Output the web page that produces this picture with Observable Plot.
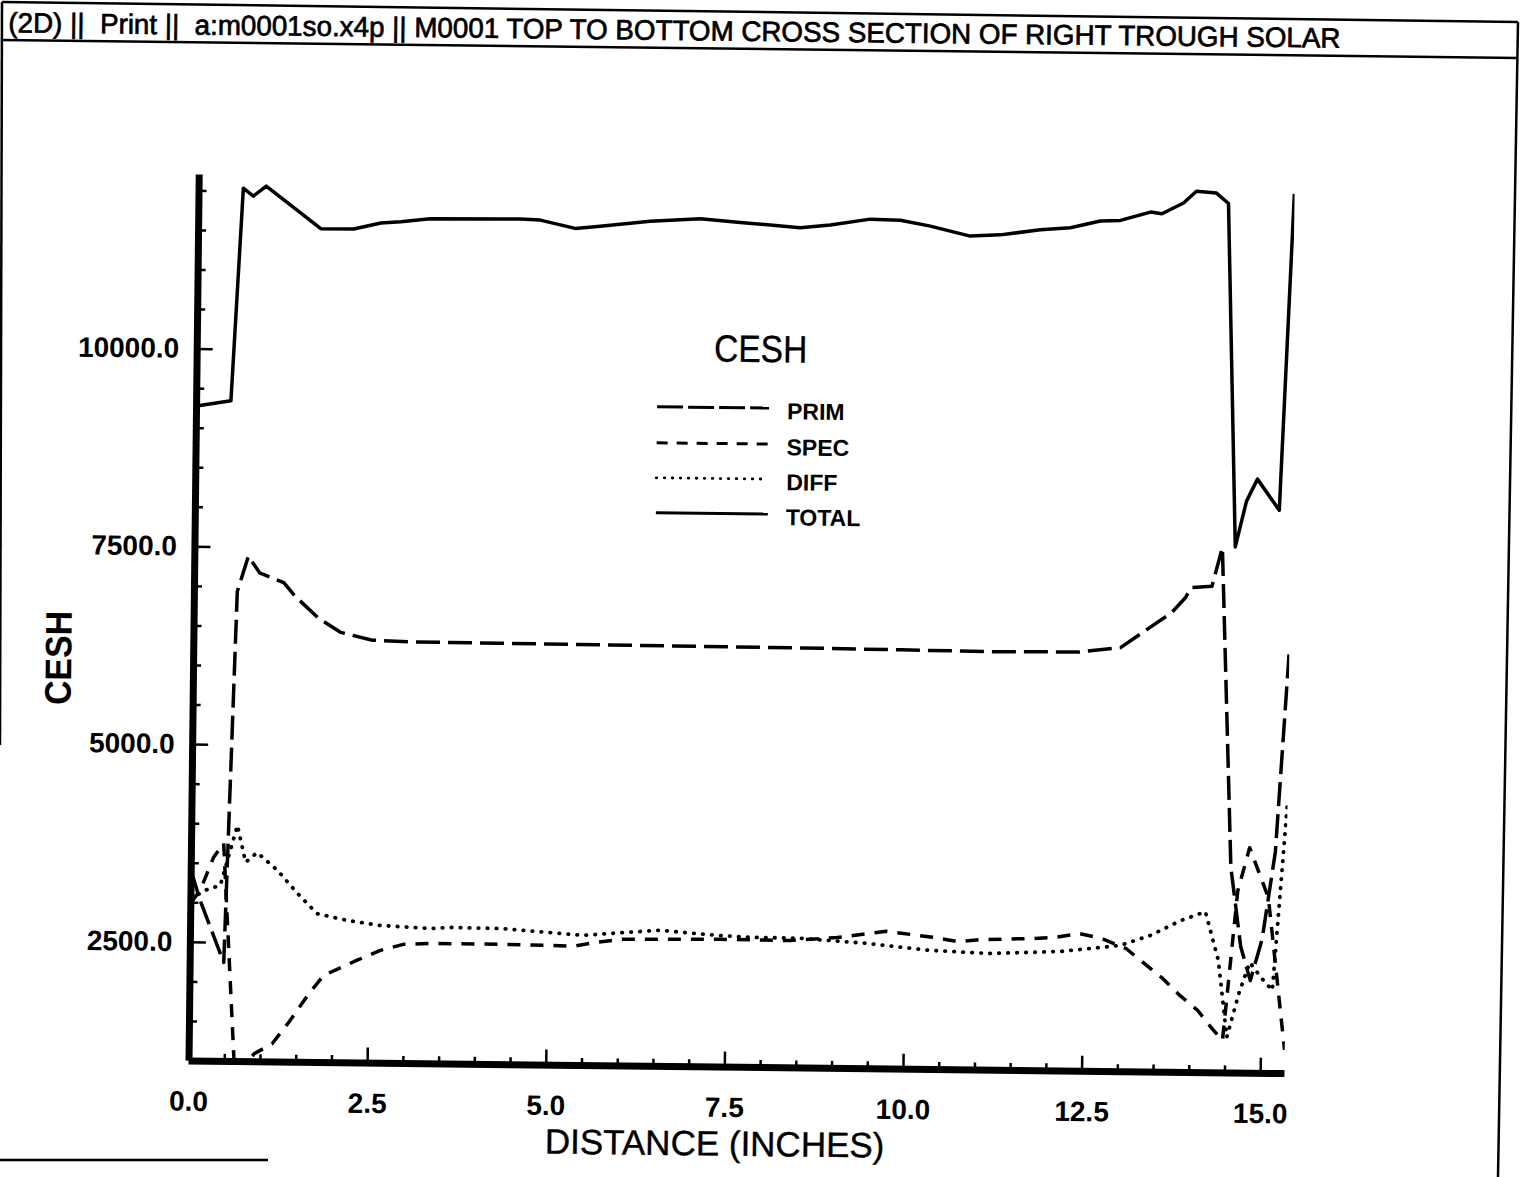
<!DOCTYPE html>
<html>
<head>
<meta charset="utf-8">
<script src="https://cdn.jsdelivr.net/npm/d3@7"></script>
<script src="https://cdn.jsdelivr.net/npm/@observablehq/plot@0.6"></script>
<style>
  body { margin: 0; background: #fff; }
  #wrap { position: relative; width: 1520px; height: 1177px; overflow: hidden; background: #fff; }
  #rot { position: absolute; left: 0; top: 0; width: 1520px; height: 1177px;
         transform: rotate(0.66deg); transform-origin: 760px 588px; }
  #chart { position: absolute; left: 0; top: 0; width: 1520px; height: 1177px; }
  #deco, #frame { position: absolute; left: 0; top: 0; overflow: visible; }
  text { font-family: "Liberation Sans", Arial, Helvetica, sans-serif; }
</style>
</head>
<body>
<div id="wrap">
  <div id="rot">
    <div id="chart"></div>
    <svg id="deco" width="1520" height="1177" xmlns="http://www.w3.org/2000/svg">
      <text x="2" y="41" font-size="28" stroke="#000" stroke-width="0.7" textLength="1332" lengthAdjust="spacingAndGlyphs" xml:space="preserve">(2D) ||  Print ||  a:m0001so.x4p || M0001 TOP TO BOTTOM CROSS SECTION OF RIGHT TROUGH SOLAR</text>
      <!-- axis titles -->
      <text x="721" y="1156" font-size="35" stroke="#000" stroke-width="0.4" text-anchor="middle">DISTANCE (INCHES)</text>
      <text transform="translate(72,666) rotate(-90)" font-size="37" font-weight="bold" text-anchor="middle" textLength="94" lengthAdjust="spacingAndGlyphs">CESH</text>
      <!-- legend -->
      <text x="758" y="362" font-size="38" stroke="#000" stroke-width="0.4" text-anchor="middle" textLength="93" lengthAdjust="spacingAndGlyphs">CESH</text>
      <g id="legend"></g>
    </svg>
  </div>
  <svg id="frame" width="1520" height="1177" xmlns="http://www.w3.org/2000/svg">
    <g fill="none" stroke="#000" stroke-width="2.5">
      <line x1="2" y1="2" x2="1518" y2="22"/>
      <line x1="2" y1="40" x2="1518" y2="58"/>
      <line x1="2" y1="2" x2="0" y2="745"/>
      <line x1="1518" y1="22" x2="1498" y2="1177"/>
      <line x1="0" y1="1160" x2="268" y2="1160"/>
    </g>
  </svg>
</div>
<script>
// ---------- data ----------
const seriesNames = ["PRIM", "SPEC", "DIFF", "TOTAL"];

const primX = [0.0, 0.13, 0.47, 0.6, 0.75, 0.91, 1.25, 1.41, 1.74, 2.05, 2.5, 3.0, 4.3, 5.7, 7.1, 8.5, 9.9, 11.3, 12.4, 12.97, 13.38, 13.68, 13.87, 13.95, 14.24, 14.38, 14.55, 14.7, 14.84, 15.0, 15.17, 15.33];
const primY = [3400, 3030, 2250, 6940, 7390, 7180, 7060, 6890, 6615, 6440, 6345, 6330, 6325, 6320, 6315, 6310, 6300, 6290, 6300, 6360, 6620, 6810, 7000, 7130, 7150, 7640, 3600, 2600, 2170, 2700, 3800, 6300];

const specX = [0.0, 0.13, 0.31, 0.45, 0.65, 0.83, 0.91, 1.16, 1.4, 1.66, 1.87, 2.33, 2.66, 2.98, 3.33, 4.34, 5.01, 5.36, 5.69, 6.04, 7.41, 8.39, 9.05, 9.74, 10.07, 10.4, 10.74, 11.07, 11.77, 12.12, 12.44, 12.76, 13.1, 13.37, 13.6, 13.86, 14.11, 14.31, 14.46, 14.65, 14.81, 15.08, 15.33];
const specY = [3000, 3160, 3575, 3760, 700, 1000, 1100, 1230, 1515, 1860, 2100, 2295, 2425, 2505, 2520, 2520, 2515, 2505, 2560, 2600, 2615, 2610, 2655, 2740, 2705, 2670, 2620, 2650, 2670, 2690, 2740, 2680, 2555, 2360, 2195, 1970, 1785, 1560, 1410, 3300, 3850, 3220, 1300];

const diffX = [0.0, 0.2, 0.41, 0.64, 0.76, 0.92, 1.21, 1.49, 1.77, 2.19, 2.66, 3.36, 3.64, 4.34, 5.04, 5.5, 6.11, 6.57, 7.36, 7.82, 8.53, 9.47, 10.36, 11.19, 12.17, 13.01, 13.43, 13.86, 14.2, 14.39, 14.52, 14.68, 14.83, 15.0, 15.15, 15.33];
const diffY = [3050, 3160, 3225, 3985, 3520, 3645, 3420, 3135, 2880, 2800, 2740, 2710, 2725, 2720, 2675, 2645, 2690, 2720, 2665, 2645, 2640, 2585, 2505, 2475, 2510, 2595, 2725, 2920, 3035, 2420, 1450, 2000, 2400, 2200, 2050, 4400];

const totalX = [0.0, 0.48, 0.62, 0.76, 0.94, 1.71, 2.17, 2.55, 2.83, 3.24, 4.5, 4.78, 5.27, 5.62, 6.32, 7.02, 7.58, 8.42, 8.84, 9.4, 9.82, 10.24, 10.8, 11.22, 11.78, 12.2, 12.62, 12.9, 13.32, 13.48, 13.78, 13.96, 14.24, 14.41, 14.56, 14.71, 14.86, 15.17, 15.33];
const totalY = [9280, 9350, 12040, 11940, 12070, 11540, 11540, 11620, 11640, 11680, 11690, 11680, 11580, 11610, 11680, 11720, 11680, 11620, 11660, 11740, 11730, 11660, 11540, 11560, 11630, 11660, 11750, 11760, 11870, 11850, 11990, 12140, 12120, 11990, 7650, 8230, 8510, 8120, 12120];

const xMajorTicks = [0, 2.5, 5, 7.5, 10, 12.5, 15];
const xMinorTicks = [0.5, 1, 1.5, 2, 3, 3.5, 4, 4.5, 5.5, 6, 6.5, 7, 8, 8.5, 9, 9.5, 10.5, 11, 11.5, 12, 13, 13.5, 14, 14.5];
const yMajorTicks = [2500, 5000, 7500, 10000];
const yMinorTicks = [1500, 2000, 3000, 3500, 4000, 4500, 5500, 6000, 6500, 7000, 8000, 8500, 9000, 9500, 10500, 11000, 11500, 12000];

// ---------- styles ----------
const dash = {PRIM: "24,8", SPEC: "13,10", DIFF: "0.5,8.5", TOTAL: null};

const toRows = (xs, ys) => xs.map((x, i) => ({x, y: ys[i]}));
const series = {
  PRIM: toRows(primX, primY),
  SPEC: toRows(specX, specY),
  DIFF: toRows(diffX, diffY),
  TOTAL: toRows(totalX, totalY)
};

const font = "Liberation Sans, Arial, Helvetica, sans-serif";

const lineMarks = seriesNames.map(name => Plot.line(series[name], {
  x: "x", y: "y", stroke: "black",
  strokeWidth: name === "DIFF" ? 3.8 : 3.5,
  strokeDasharray: dash[name] ?? undefined,
  strokeLinecap: name === "DIFF" ? "round" : "butt",
  strokeLinejoin: "round",
  clip: true
}));

const chart = Plot.plot({
  width: 1520,
  height: 1177,
  marginLeft: 194,
  marginRight: 230,
  marginTop: 181,
  marginBottom: 110,
  x: {domain: [0, 15.34]},
  y: {domain: [1000, 12200]},
  style: {fontFamily: font, background: "white", color: "black", maxWidth: "none"},
  marks: [
    ...lineMarks,
    Plot.axisX(xMinorTicks, {tickSize: -7, tickFormat: () => "", label: null, strokeWidth: 2.5}),
    Plot.axisX(xMajorTicks, {tickSize: -15, tickPadding: 45, tickFormat: d => d.toFixed(1), label: null,
      strokeWidth: 2.5, fontSize: 28, fontWeight: "bold"}),
    Plot.axisY(yMinorTicks, {tickSize: -8, tickFormat: () => "", label: null, strokeWidth: 2.5}),
    Plot.axisY(yMajorTicks, {tickSize: -16, tickPadding: 34, tickFormat: d => d.toFixed(1), label: null,
      strokeWidth: 2.5, fontSize: 28, fontWeight: "bold"}),
    Plot.ruleX([0], {strokeWidth: 7}),
    Plot.ruleY([1000], {strokeWidth: 7})
  ]
});
document.getElementById("chart").appendChild(chart);

// ---------- legend ----------
const ns = "http://www.w3.org/2000/svg";
const lg = document.getElementById("legend");
const legendY = [408, 444, 479, 514];
const legendDash = {PRIM: "26,5", SPEC: "11,9", DIFF: "0.5,7.5", TOTAL: null};
seriesNames.forEach((name, i) => {
  const ln = document.createElementNS(ns, "line");
  ln.setAttribute("x1", 655); ln.setAttribute("x2", 767);
  ln.setAttribute("y1", legendY[i]); ln.setAttribute("y2", legendY[i]);
  ln.setAttribute("stroke", "#000");
  ln.setAttribute("stroke-width", name === "DIFF" ? 2.8 : 3);
  if (legendDash[name]) ln.setAttribute("stroke-dasharray", legendDash[name]);
  if (name === "DIFF") ln.setAttribute("stroke-linecap", "round");
  lg.appendChild(ln);
  const t = document.createElementNS(ns, "text");
  t.setAttribute("x", 785); t.setAttribute("y", legendY[i] + 11);
  t.setAttribute("font-size", 23); t.setAttribute("font-weight", "bold");
  t.textContent = name;
  lg.appendChild(t);
});
</script>
</body>
</html>
